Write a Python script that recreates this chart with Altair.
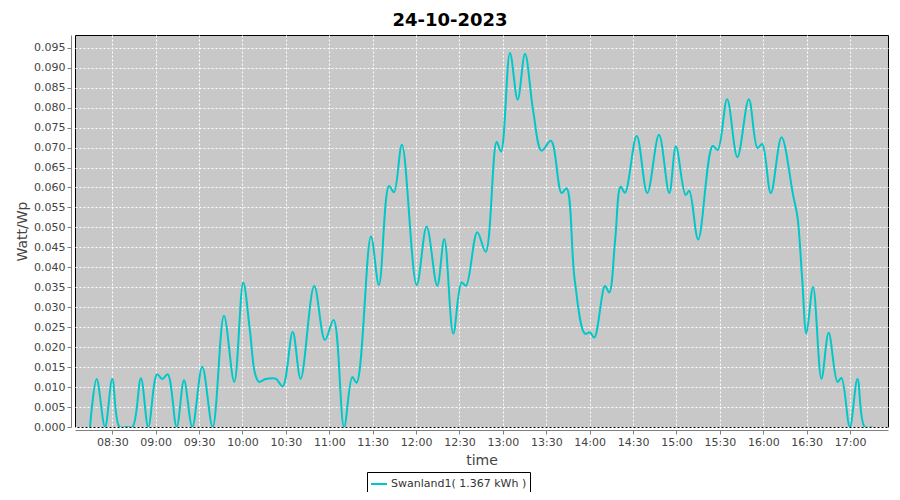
import altair as alt
import pandas as pd

# --- data ---
times = [
    "08:14:36", "08:19:12", "08:25:00", "08:30:00", "08:35:00", "08:40:00", "08:44:00",
    "08:49:48", "08:54:54", "09:01:00", "09:04:36", "09:08:18", "09:14:30", "09:19:36",
    "09:25:18", "09:32:12", "09:39:24", "09:47:12", "09:54:18", "10:00:30", "10:05:06",
    "10:08:36", "10:11:24", "10:16:00", "10:23:00", "10:27:48", "10:34:42", "10:40:12",
    "10:49:36", "10:57:00", "11:03:00", "11:10:12", "11:15:54", "11:18:54", "11:28:48",
    "11:34:18", "11:41:18", "11:44:42", "11:50:12", "12:00:24", "12:07:18", "12:14:36",
    "12:19:30", "12:25:42", "12:31:30", "12:34:30", "12:42:18", "12:48:06", "12:55:42",
    "12:58:42", "13:04:54", "13:10:12", "13:15:18", "13:21:00", "13:26:48", "13:33:12",
    "13:40:36", "13:44:00", "13:49:36", "13:56:42", "14:00:12", "14:03:12", "14:10:36",
    "14:13:30", "14:17:36", "14:21:24", "14:24:24", "14:32:30", "14:39:48", "14:47:54",
    "14:55:00", "14:59:36", "15:06:18", "15:08:48", "15:15:00", "15:25:00", "15:28:30",
    "15:35:00", "15:42:06", "15:50:00", "15:56:00", "15:59:12", "16:05:12", "16:12:36",
    "16:20:36", "16:23:36", "16:26:48", "16:29:48", "16:34:24", "16:40:12", "16:45:12",
    "16:51:18", "16:54:00", "16:59:48", "17:05:06", "17:10:06", "17:15:36",
]
watt_wp = [
    0.0000, 0.0120, 0.0000, 0.0120, 0.0000, 0.0000, 0.0000,
    0.0122, 0.0000, 0.0132, 0.0120, 0.0132, 0.0000, 0.0117,
    0.0000, 0.0151, 0.0000, 0.0279, 0.0113, 0.0362, 0.0243,
    0.0135, 0.0113, 0.0120, 0.0121, 0.0102, 0.0238, 0.0121,
    0.0353, 0.0218, 0.0268, 0.0000, 0.0125, 0.0111, 0.0477,
    0.0356, 0.0604, 0.0588, 0.0707, 0.0356, 0.0502, 0.0354,
    0.0471, 0.0234, 0.0362, 0.0354, 0.0488, 0.0439, 0.0714,
    0.0690, 0.0937, 0.0820, 0.0935, 0.0790, 0.0692, 0.0717,
    0.0586, 0.0598, 0.0370, 0.0234, 0.0237, 0.0224, 0.0353,
    0.0337, 0.0468, 0.0602, 0.0587, 0.0729, 0.0586, 0.0732,
    0.0586, 0.0703, 0.0581, 0.0592, 0.0470, 0.0704, 0.0694,
    0.0821, 0.0676, 0.0821, 0.0699, 0.0709, 0.0586, 0.0726,
    0.0581, 0.0527, 0.0376, 0.0234, 0.0351, 0.0121, 0.0236,
    0.0113, 0.0123, 0.0000, 0.0120, 0.0000, 0.0000,
]
series_name = "Swanland1( 1.367 kWh )"
chart_title = ["24-10-2023"]
day = "2023-10-24"
x_ticks = ["08:30", "09:00", "09:30", "10:00", "10:30", "11:00", "11:30", "12:00",
           "12:30", "13:00", "13:30", "14:00", "14:30", "15:00", "15:30", "16:00",
           "16:30", "17:00"]
y_ticks = [round(i * 0.005, 3) for i in range(20)]

df = pd.DataFrame({
    "time": [f"{day}T{t}" for t in times],
    "value": watt_wp,
    "series": [series_name] * len(times),
})
title_df = pd.DataFrame({"label": chart_title})


def dt(hms):
    h, m, s = (list(map(int, hms.split(":"))) + [0])[:3]
    return alt.DateTime(year=2023, month=10, date=24, hours=h, minutes=m, seconds=s)


FONT = "DejaVu Sans"
AX = "#808080"
TXT = "#444444"

x_axis = alt.Axis(
    values=[dt(t) for t in x_ticks], format="%H:%M", title="time",
    offset=3, tickSize=4, tickColor=AX, domainColor=AX, labelPadding=2,
    labelFont=FONT, labelFontSize=11, labelColor=TXT, labelOverlap=False, labelFlush=False,
    titleFont=FONT, titleFontSize=14, titleFontWeight="normal", titleColor=TXT, titlePadding=6,
    grid=True, gridColor="white", gridDash=[2, 2], gridWidth=1,
)
y_axis = alt.Axis(
    values=y_ticks, format=".3f", title="Watt/Wp",
    offset=4, tickSize=4, tickColor=AX, domainColor=AX, labelPadding=2,
    labelFont=FONT, labelFontSize=11, labelColor=TXT, labelOverlap=False, labelFlush=False,
    titleFont=FONT, titleFontSize=14, titleFontWeight="normal", titleColor=TXT, titlePadding=4,
    grid=True, gridColor="white", gridDash=[2, 2], gridWidth=1,
)

line = alt.Chart(df).mark_line(
    interpolate="catmull-rom", strokeWidth=2, clip=True
).encode(
    x=alt.X("time:T", axis=x_axis,
            scale=alt.Scale(domain=[dt("08:04:14"), dt("17:26:12")], nice=False)),
    y=alt.Y("value:Q", axis=y_axis,
            scale=alt.Scale(domain=[0, 0.0982], nice=False, zero=True)),
    color=alt.Color("series:N", scale=alt.Scale(range=["#00C8C8"]),
                    legend=alt.Legend(
                        title=None, orient="none", legendX=292, legendY=437,
                        strokeColor="black", fillColor="white", padding=3,
                        symbolType="stroke", symbolSize=256, symbolStrokeWidth=2,
                        labelFont=FONT, labelFontSize=11, labelColor="#333333",
                        labelOffset=3)),
)

title = alt.Chart(title_df).mark_text(
    font=FONT, fontSize=18, fontWeight="bold", color="black",
    align="center", baseline="alphabetic",
).encode(
    text="label:N",
    x=alt.value(375),
    y=alt.value(-9),
)

chart = alt.layer(line, title).properties(
    width=813, height=392,
    padding={"left": 67, "top": 27, "right": 4, "bottom": 65},
    autosize=alt.AutoSizeParams(type="none"),
    background="white",
).configure_view(
    fill="#C8C8C8", stroke="black", strokeWidth=1,
)

chart.save("out.html", embed_options={"renderer": "svg", "actions": False})
